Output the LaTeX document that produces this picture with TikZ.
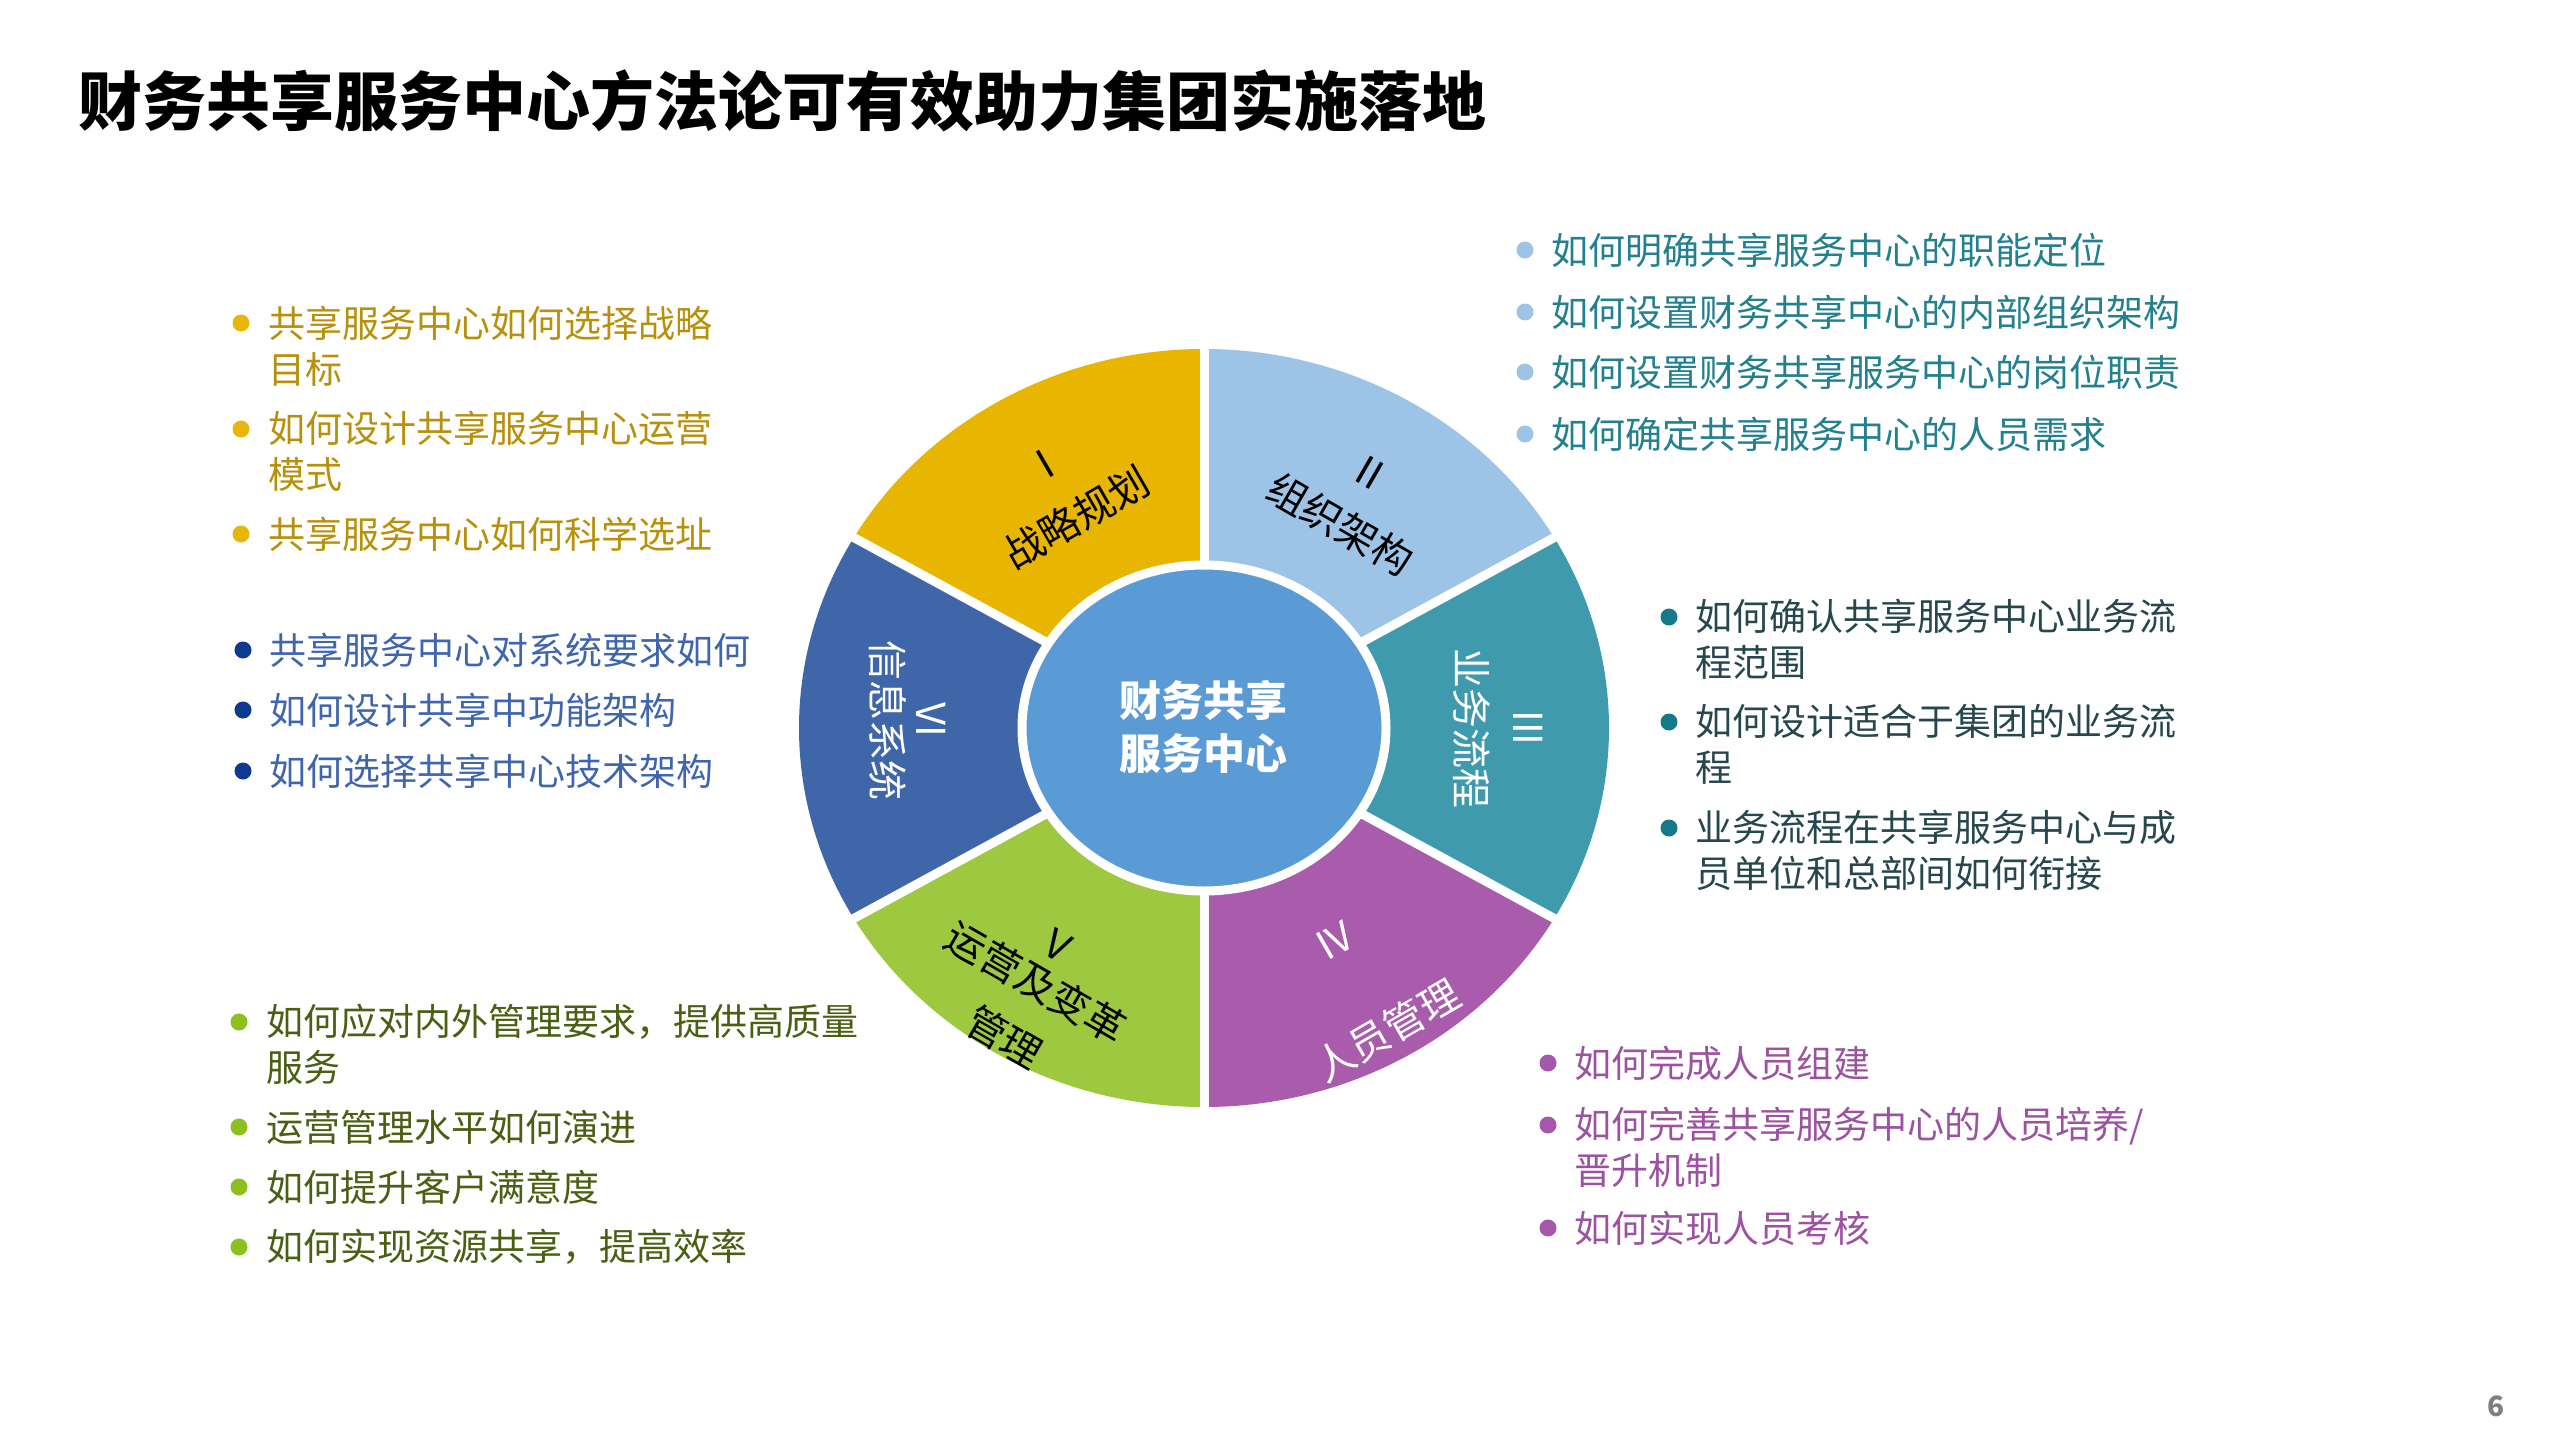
\documentclass[tikz,border=0pt]{standalone}
\usepackage{fontspec}
\setmainfont{Noto Sans CJK SC}
\definecolor{cI}{HTML}{E8B500}
\definecolor{cII}{HTML}{9DC3E6}
\definecolor{cIII}{HTML}{3F9AAE}
\definecolor{cIV}{HTML}{A95CAB}
\definecolor{cV}{HTML}{9DC83F}
\definecolor{cVI}{HTML}{3F66A9}
\definecolor{cCenter}{HTML}{5B9BD5}
\definecolor{tI}{HTML}{B8900A}
\definecolor{bI}{HTML}{E8B50A}
\definecolor{tII}{HTML}{23808F}
\definecolor{bII}{HTML}{9DC3E6}
\definecolor{tIII}{HTML}{25474D}
\definecolor{bIII}{HTML}{14798A}
\definecolor{tIV}{HTML}{9C52A0}
\definecolor{bIV}{HTML}{A657AB}
\definecolor{tV}{HTML}{4B5E12}
\definecolor{bV}{HTML}{8CC01E}
\definecolor{tVI}{HTML}{3E65AE}
\definecolor{bVI}{HTML}{0D3A8E}
\definecolor{pagegray}{HTML}{7F7F7F}
\tikzset{
  item/.style={anchor=west, inner sep=0pt, align=left, font=\fontsize{37}{46}\selectfont},
  seglabel/.style={inner sep=0pt, align=center},
  dot/.style={circle, inner sep=0pt, minimum size=17pt},
}
\begin{document}
\begin{tikzpicture}[x=1pt,y=-1pt]
\fill[white] (0,0) rectangle (2560,1440);
\useasboundingbox (0,0) rectangle (2560,1440);

% title
\node[anchor=west, inner sep=0pt, font=\fontsize{64}{77}\selectfont\bfseries] (title) at (78,101) {财务共享服务中心方法论可有效助力集团实施落地};

% wheel
\begin{scope}[shift={(1204,728)}, yscale=-1]
  \fill[cI]   (0,0) -- (90:405 and 379)  arc[start angle=90,  end angle=150, x radius=405, y radius=379] -- cycle;
  \fill[cII]  (0,0) -- (30:405 and 379)  arc[start angle=30,  end angle=90,  x radius=405, y radius=379] -- cycle;
  \fill[cIII] (0,0) -- (-30:405 and 379) arc[start angle=-30, end angle=30,  x radius=405, y radius=379] -- cycle;
  \fill[cIV]  (0,0) -- (-90:405 and 379) arc[start angle=-90, end angle=-30, x radius=405, y radius=379] -- cycle;
  \fill[cV]   (0,0) -- (210:405 and 379) arc[start angle=210, end angle=270, x radius=405, y radius=379] -- cycle;
  \fill[cVI]  (0,0) -- (150:405 and 379) arc[start angle=150, end angle=210, x radius=405, y radius=379] -- cycle;
  \foreach \a in {90,30,-30,-90,-150,150}
    \draw[white, line width=9] (0,0) -- (\a:430 and 405);
  \filldraw[fill=cCenter, draw=white, line width=9] (0,0) ellipse[x radius=182, y radius=163];
\end{scope}

\node[inner sep=0pt, align=center, text=white, font=\fontsize{42}{53}\selectfont\bfseries] (center) at (1203,727) {财务共享\\服务中心};

% segment labels
\node[seglabel, rotate=30, font=\fontsize{40}{62}\selectfont] (lI) at (1062,492) {I\\战略规划};
\node[seglabel, rotate=-30, font=\fontsize{40}{60}\selectfont] (lII) at (1354,500) {II\\组织架构};
\node[seglabel, rotate=-90, text=white, font=\fontsize{40}{57}\selectfont] (lIII) at (1498,728) {III\\业务流程};
\node[seglabel, rotate=30, text=white, font=\fontsize{40}{104}\selectfont] (lIV) at (1362,987) {IV\\人员管理};
\node[seglabel, rotate=-30, font=\fontsize{40}{63}\selectfont] (lV) at (1030,993) {V\\[-20pt]运营及变革\\管理};
\node[seglabel, rotate=-90, text=white, font=\fontsize{40}{44}\selectfont] (lVI) at (907,720) {VI\\信息系统};

% yellow list
\node[dot, fill=bI] (dI1) at (241,323) {};
\node[item, text=tI] (iI1) at (268,346) {共享服务中心如何选择战略\\目标};
\node[dot, fill=bI] (dI2) at (241,429) {};
\node[item, text=tI] (iI2) at (268,451) {如何设计共享服务中心运营\\模式};
\node[dot, fill=bI] (dI3) at (241,534) {};
\node[item, text=tI] (iI3) at (268,534) {共享服务中心如何科学选址};

% dark blue list
\node[dot, fill=bVI] (dVI1) at (243,650) {};
\node[item, text=tVI] (iVI1) at (269,650) {共享服务中心对系统要求如何};
\node[dot, fill=bVI] (dVI2) at (243,710) {};
\node[item, text=tVI] (iVI2) at (269,710) {如何设计共享中功能架构};
\node[dot, fill=bVI] (dVI3) at (243,771) {};
\node[item, text=tVI] (iVI3) at (269,771) {如何选择共享中心技术架构};

% green list
\node[dot, fill=bV] (dV1) at (239,1022) {};
\node[item, text=tV] (iV1) at (266,1044) {如何应对内外管理要求，提供高质量\\服务};
\node[dot, fill=bV] (dV2) at (239,1127) {};
\node[item, text=tV] (iV2) at (266,1127) {运营管理水平如何演进};
\node[dot, fill=bV] (dV3) at (239,1187) {};
\node[item, text=tV] (iV3) at (266,1187) {如何提升客户满意度};
\node[dot, fill=bV] (dV4) at (239,1247) {};
\node[item, text=tV] (iV4) at (266,1247) {如何实现资源共享，提高效率};

% light blue list
\node[dot, fill=bII] (dII1) at (1525,250) {};
\node[item, text=tII] (iII1) at (1551,250) {如何明确共享服务中心的职能定位};
\node[dot, fill=bII] (dII2) at (1525,312) {};
\node[item, text=tII] (iII2) at (1551,312) {如何设置财务共享中心的内部组织架构};
\node[dot, fill=bII] (dII3) at (1525,372) {};
\node[item, text=tII] (iII3) at (1551,372) {如何设置财务共享服务中心的岗位职责};
\node[dot, fill=bII] (dII4) at (1525,434) {};
\node[item, text=tII] (iII4) at (1551,434) {如何确定共享服务中心的人员需求};

% teal list
\node[dot, fill=bIII] (dIII1) at (1669,617) {};
\node[item, text=tIII] (iIII1) at (1695,639) {如何确认共享服务中心业务流\\程范围};
\node[dot, fill=bIII] (dIII2) at (1669,722) {};
\node[item, text=tIII] (iIII2) at (1695,744) {如何设计适合于集团的业务流\\程};
\node[dot, fill=bIII] (dIII3) at (1669,828) {};
\node[item, text=tIII] (iIII3) at (1695,850) {业务流程在共享服务中心与成\\员单位和总部间如何衔接};

% purple list
\node[dot, fill=bIV] (dIV1) at (1548,1063) {};
\node[item, text=tIV] (iIV1) at (1574,1063) {如何完成人员组建};
\node[dot, fill=bIV] (dIV2) at (1548,1125) {};
\node[item, text=tIV] (iIV2) at (1574,1147) {如何完善共享服务中心的人员培养/\\晋升机制};
\node[dot, fill=bIV] (dIV3) at (1548,1228) {};
\node[item, text=tIV] (iIV3) at (1574,1228) {如何实现人员考核};

% page number
\node[inner sep=0pt, text=pagegray, font=\fontsize{28}{34}\selectfont\bfseries] (page) at (2496,1406) {6};
\end{tikzpicture}
\end{document}
